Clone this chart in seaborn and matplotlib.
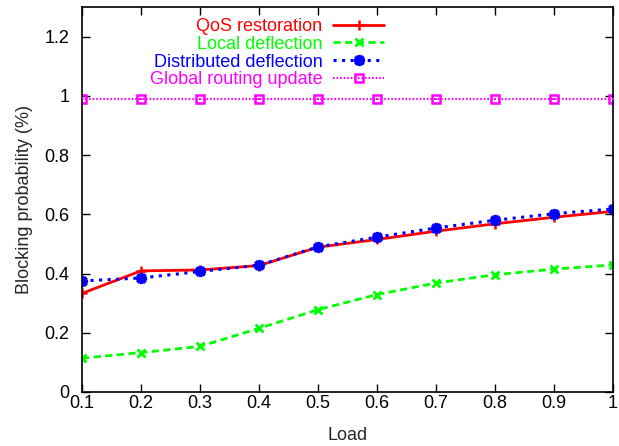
import matplotlib
matplotlib.use("Agg")
import matplotlib.pyplot as plt
import seaborn as sns
import pandas as pd
from matplotlib.ticker import FuncFormatter

load = [0.1, 0.2, 0.3, 0.4, 0.5, 0.6, 0.7, 0.8, 0.9, 1.0]
qos_restoration = [0.333, 0.409, 0.412, 0.427, 0.489, 0.515, 0.543, 0.568, 0.590, 0.610]
local_deflection = [0.114, 0.133, 0.154, 0.215, 0.278, 0.329, 0.368, 0.396, 0.415, 0.429]
distributed_deflection = [0.375, 0.385, 0.407, 0.428, 0.490, 0.523, 0.554, 0.580, 0.602, 0.618]
global_routing_update = [0.99, 0.99, 0.99, 0.99, 0.99, 0.99, 0.99, 0.99, 0.99, 0.99]

series_names = ["QoS restoration", "Local deflection", "Distributed deflection", "Global routing update"]
series_values = [qos_restoration, local_deflection, distributed_deflection, global_routing_update]

sns.set_theme(style="ticks")
plt.rcParams["font.family"] = ["Liberation Sans", "DejaVu Sans"]

fig = plt.figure(figsize=(6.19, 4.46), dpi=100)
ax = fig.add_axes([82 / 619, 1 - 392 / 446, (613 - 82) / 619, (392 - 7) / 446])

styles = [
    dict(color="#ff0000", linestyle="-", marker="+", markersize=7, linewidth=2.0, mew=1.8),
    dict(color="#00ff00", linestyle=(0, (2.6, 1.6)), marker="x", markersize=6, linewidth=2.0, mew=2.0),
    dict(color="#0000ff", linestyle=(0, (1.0, 1.8)), marker=(8, 2, 0), markersize=8, linewidth=2.2, mew=2.4),
    dict(color="#ff00ff", linestyle=(0, (0.7, 0.9)), marker="s", markersize=6, linewidth=1.6, mew=1.8,
         markerfacecolor="none"),
]

for name, vals, st in zip(series_names, series_values, styles):
    df = pd.DataFrame({"Load": load, "Blocking": vals})
    st = dict(st)
    color = st.pop("color")
    sns.lineplot(data=df, x="Load", y="Blocking", ax=ax, color=color, label=name,
                 markeredgecolor=color, **st)

# small centre dot inside the square markers
sns.scatterplot(x=load, y=global_routing_update, ax=ax, color="#ff00ff", marker="s",
                s=3, linewidth=0, legend=False, zorder=5)

ax.set_xlim(0.1, 1.0)
ax.set_ylim(0, 1.3)
ax.set_xticks([0.1, 0.2, 0.3, 0.4, 0.5, 0.6, 0.7, 0.8, 0.9, 1.0])
ax.set_yticks([0, 0.2, 0.4, 0.6, 0.8, 1.0, 1.2])
fmt = FuncFormatter(lambda v, p: ("%g" % round(v, 2)))
ax.xaxis.set_major_formatter(fmt)
ax.yaxis.set_major_formatter(fmt)
ax.tick_params(direction="in", length=5.5, width=1.0, top=True, right=True,
               labelsize=13, colors="black")
ax.tick_params(axis="x", pad=2)
ax.tick_params(axis="y", pad=9)
for sp in ax.spines.values():
    sp.set_visible(True)
    sp.set_linewidth(1.2)
    sp.set_color("black")

ax.set_xlabel("Load", fontsize=13, labelpad=11)
ax.set_ylabel("Blocking probability (%)", fontsize=13, labelpad=8)

leg = ax.legend(loc="upper right", bbox_to_anchor=(0.582, 0.99), frameon=False,
                markerfirst=False, fontsize=13, labelcolor="linecolor",
                handlelength=2.8, handletextpad=0.6, labelspacing=0.04,
                borderaxespad=0.2, borderpad=0.2)

fig.savefig("out.png", dpi=100)
